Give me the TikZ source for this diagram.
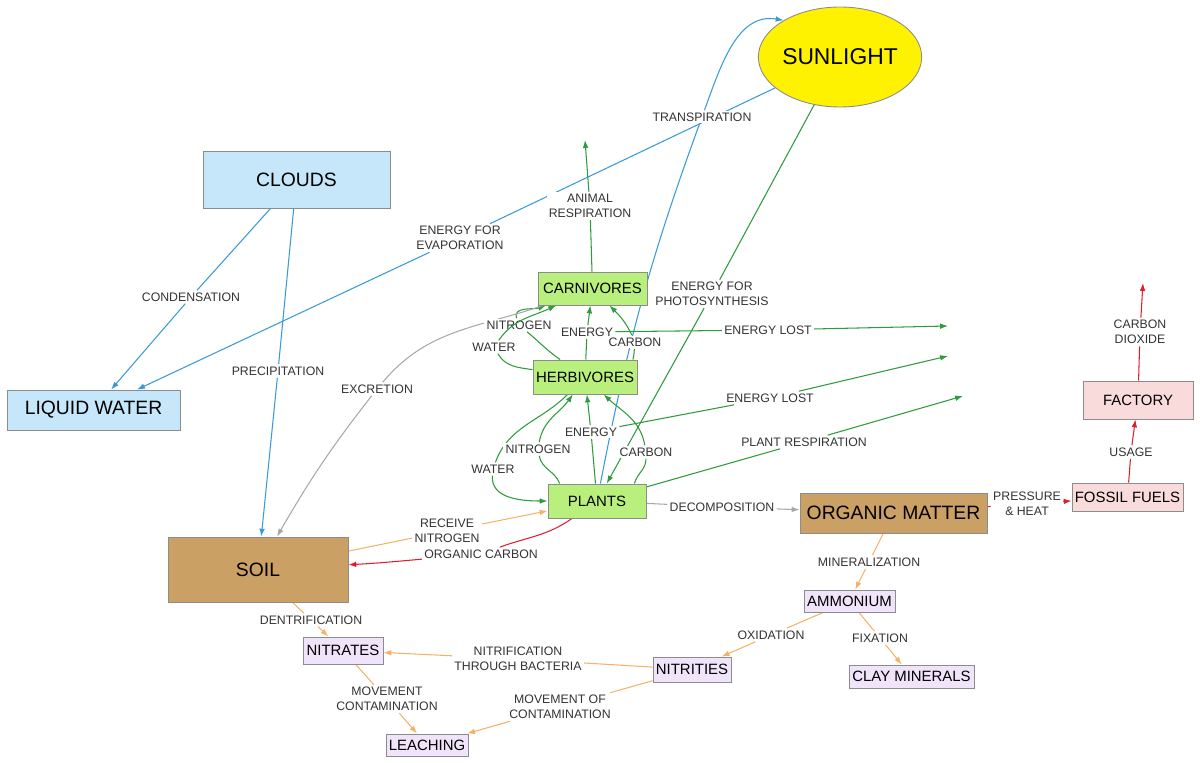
\documentclass[tikz,border=0pt]{standalone}
\usepackage{fontspec}
\setmainfont{Liberation Sans}
\usetikzlibrary{arrows.meta,shapes.geometric}
\pgfdeclarelayer{bg}
\pgfsetlayers{bg,main}
\definecolor{lblue}{HTML}{3A9AD9}
\definecolor{lgreen}{HTML}{2E9B3C}
\definecolor{lgrey}{HTML}{A8A8A8}
\definecolor{lorange}{HTML}{F5B267}
\definecolor{lred}{HTML}{DD1F2B}
\definecolor{fblue}{HTML}{C6E6F9}
\definecolor{fgreen}{HTML}{B9EF7C}
\definecolor{fbrown}{HTML}{CBA064}
\definecolor{fpink}{HTML}{FADBDB}
\definecolor{flav}{HTML}{EFE4FA}
\definecolor{bgrey}{HTML}{8C8C8C}
\definecolor{ltext}{HTML}{333333}
\tikzset{
 concept/.style={draw=bgrey, line width=0.5pt, inner sep=0pt, align=center, text=black},
 big/.style={concept, font=\fontsize{11}{13}\selectfont},
 small/.style={concept, font=\fontsize{8.5}{10}\selectfont},
 link/.style={fill=white, inner sep=1.2pt, text=ltext, align=center, font=\fontsize{7}{8.5}\selectfont},
 con/.style={line width=0.6pt},
 arr/.style={con, -{Latex[length=4.5pt,width=3.2pt]}},
 bl/.style={con, draw=lblue},
 gr/.style={con, draw=lgreen},
 gy/.style={con, draw=lgrey},
 og/.style={con, draw=lorange},
 rd/.style={con, draw=lred}
}
\begin{document}
\begin{tikzpicture}[x=0.02cm,y=0.02cm]
\useasboundingbox (0,0) rectangle (1200,-763);
% concepts
\node[concept, ellipse, fill=yellow, minimum width=2.92cm, minimum height=2cm, font=\fontsize{13}{15}\selectfont] (sun) at (840,-57) {SUNLIGHT};
\node[big, fill=fblue, minimum width=3.74cm, minimum height=1.14cm] (clouds) at (296.5,-179.5) {CLOUDS};
\node[big, fill=fblue, minimum width=3.46cm, minimum height=0.8cm] (liquid) at (93.5,-410) {LIQUID WATER};
\node[small, fill=fgreen, minimum width=2.18cm, minimum height=0.66cm] (carn) at (592.5,-288.5) {CARNIVORES};
\node[small, fill=fgreen, minimum width=2.08cm, minimum height=0.68cm] (herb) at (585,-377) {HERBIVORES};
\node[small, fill=fgreen, minimum width=1.96cm, minimum height=0.68cm] (plants) at (597,-501) {PLANTS};
\node[big, fill=fbrown, minimum width=3.6cm, minimum height=1.3cm] (soil) at (258,-569.5) {SOIL};
\node[big, fill=fbrown, minimum width=3.74cm, minimum height=0.8cm] (org) at (893.5,-513) {ORGANIC MATTER};
\node[small, fill=fpink, minimum width=2.22cm, minimum height=0.56cm] (fossil) at (1127.5,-497) {FOSSIL FUELS};
\node[small, fill=fpink, minimum width=2.2cm, minimum height=0.76cm] (factory) at (1138,-400) {FACTORY};
\node[small, fill=flav, minimum width=1.82cm, minimum height=0.44cm] (ammonium) at (849.5,-601) {AMMONIUM};
\node[small, fill=flav, minimum width=2.5cm, minimum height=0.46cm] (clay) at (911.5,-676.5) {CLAY MINERALS};
\node[small, fill=flav, minimum width=1.56cm, minimum height=0.5cm] (nitrities) at (692,-669.5) {NITRITIES};
\node[small, fill=flav, minimum width=1.6cm, minimum height=0.54cm] (nitrates) at (343,-650.5) {NITRATES};
\node[small, fill=flav, minimum width=1.64cm, minimum height=0.44cm] (leaching) at (427,-745) {LEACHING};
% free ends
\coordinate (eresp) at (585,-140);
\coordinate (e1) at (948,-326);
\coordinate (e2) at (948,-356);
\coordinate (e3) at (963,-396);
\coordinate (eco2) at (1143,-283);
% linking phrases
\node[link] (ltransp) at (702,-117) {TRANSPIRATION};
\node[link] (levap) at (460,-238) {ENERGY FOR\\EVAPORATION};
\node[link] (lresp) at (590,-206) {ANIMAL\\RESPIRATION};
\node[link] (lphoto) at (712,-294) {ENERGY FOR\\PHOTOSYNTHESIS};
\node[link] (lcond) at (191,-297) {CONDENSATION};
\node[link] (lprec) at (278,-371) {PRECIPITATION};
\node[link] (lexcr) at (377,-389) {EXCRETION};
\node[link] (lnup) at (519,-325) {NITROGEN};
\node[link] (lwup) at (494,-347) {WATER};
\node[link] (leup) at (587,-332) {ENERGY};
\node[link] (lcup) at (635,-342) {CARBON};
\node[link] (llost1) at (768,-330) {ENERGY LOST};
\node[link] (lelow) at (591,-432) {ENERGY};
\node[link] (lnlow) at (538,-449) {NITROGEN};
\node[link] (lwlow) at (493,-469) {WATER};
\node[link] (lclow) at (646,-452) {CARBON};
\node[link] (llost2) at (770,-398) {ENERGY LOST};
\node[link] (lpresp) at (804,-442) {PLANT RESPIRATION};
\node[link] (lco2) at (1140,-332) {CARBON\\DIOXIDE};
\node[link] (lusage) at (1131,-452) {USAGE};
\node[link] (lpress) at (1027,-504) {PRESSURE\\\& HEAT};
\node[link] (ldecomp) at (722,-507) {DECOMPOSITION};
\node[link] (lrecv) at (447,-531) {RECEIVE\\NITROGEN};
\node[link] (locarb) at (481,-554) {ORGANIC CARBON};
\node[link] (ldent) at (311,-620) {DENTRIFICATION};
\node[link] (lmin) at (869,-562) {MINERALIZATION};
\node[link] (loxid) at (771,-635) {OXIDATION};
\node[link] (lfix) at (880,-638) {FIXATION};
\node[link] (lnitr) at (518,-659) {NITRIFICATION\\THROUGH BACTERIA};
\node[link] (lmov1) at (387,-699) {MOVEMENT\\CONTAMINATION};
\node[link] (lmov2) at (560,-707) {MOVEMENT OF\\CONTAMINATION};
% connectors
\begin{pgfonlayer}{bg}
% water cycle (blue)
\draw[bl] (sun) -- (levap);
\draw[bl,arr] (levap) -- (liquid);
\draw[bl] (clouds) -- (lcond);
\draw[bl,arr] (lcond) -- (liquid);
\draw[bl] (clouds) -- (lprec);
\draw[bl,arr] (lprec) -- (soil);
\draw[bl] (plants) to[out=79,in=-110] (ltransp);
\draw[bl,arr] (ltransp) to[out=70,in=170] (sun.147);
% energy / food chain (green)
\draw[gr] (sun) -- (lphoto);
\draw[gr,arr] (lphoto) -- (plants);
\draw[gr] (carn) -- (lresp);
\draw[gr,arr] (lresp) -- (eresp);
\draw[gr] (herb) -- (leup);
\draw[gr,arr] (leup) -- (carn);
\draw[gr] (herb) to[out=145,in=-40] (lnup);
\draw[gr,arr] (lnup) to[out=110,in=200] (carn);
\draw[gr] (herb) to[out=172,in=-60] (lwup);
\draw[gr] (herb.20) to[out=75,in=-95] (lcup);
\draw[gr,arr] (lcup) to[out=115,in=-45] (carn);
\draw[gr] (leup) -- (llost1);
\draw[gr,arr] (llost1) -- (e1);
\draw[gr] (plants) -- (lelow);
\draw[gr,arr] (lelow) -- (herb);
\draw[gr] (plants.155) to[out=110,in=-80] (lnlow);
\draw[gr,arr] (lnlow) to[out=80,in=235] (herb);
\draw[gr] (herb) to[out=225,in=70] (lwlow);
\draw[gr,arr] (lwlow) to[out=-95,in=180] (plants);
\draw[gr] (plants.25) to[out=75,in=-90] (lclow);
\draw[gr,arr] (lclow) to[out=100,in=-43] (herb);
\draw[gr] (lelow) -- (llost2);
\draw[gr,arr] (llost2) -- (e2);
\draw[gr] (plants) -- (lpresp);
\draw[gr,arr] (lpresp) -- (e3);
% grey
\draw[gy] (carn) to[out=199,in=50] (lexcr);
\draw[gy,arr] (lexcr) to[out=232,in=60] (soil);
\draw[gy] (plants) -- (ldecomp);
\draw[gy,arr] (ldecomp) -- (org);
% nitrogen (orange)
\draw[og] (soil) -- (lrecv);
\draw[og,arr] (lrecv) -- (plants);
\draw[og] (soil) -- (ldent);
\draw[og,arr] (ldent) -- (nitrates);
\draw[og] (org) -- (lmin);
\draw[og,arr] (lmin) -- (ammonium);
\draw[og] (ammonium) -- (lfix);
\draw[og,arr] (lfix) -- (clay);
\draw[og] (ammonium) -- (loxid);
\draw[og,arr] (loxid) -- (nitrities);
\draw[og] (nitrities) -- (lnitr);
\draw[og,arr] (lnitr) -- (nitrates);
\draw[og] (nitrities) -- (lmov2);
\draw[og,arr] (lmov2) -- (leaching);
\draw[og] (nitrates) -- (lmov1);
\draw[og,arr] (lmov1) -- (leaching);
% carbon (red)
\draw[rd] (plants) to[out=215,in=20] (locarb);
\draw[rd,arr] (locarb) to[out=185,in=3] (soil);
\draw[rd] (org) -- (lpress);
\draw[rd,arr] (lpress) -- (fossil);
\draw[rd] (fossil) -- (lusage);
\draw[rd,arr] (lusage) -- (factory);
\draw[rd] (factory) -- (lco2);
\draw[rd,arr] (lco2) -- (eco2);
\end{pgfonlayer}
% water line crossing the NITROGEN label
\draw[gr,arr] (lwup) to[out=55,in=205] (carn);
\end{tikzpicture}
\end{document}
